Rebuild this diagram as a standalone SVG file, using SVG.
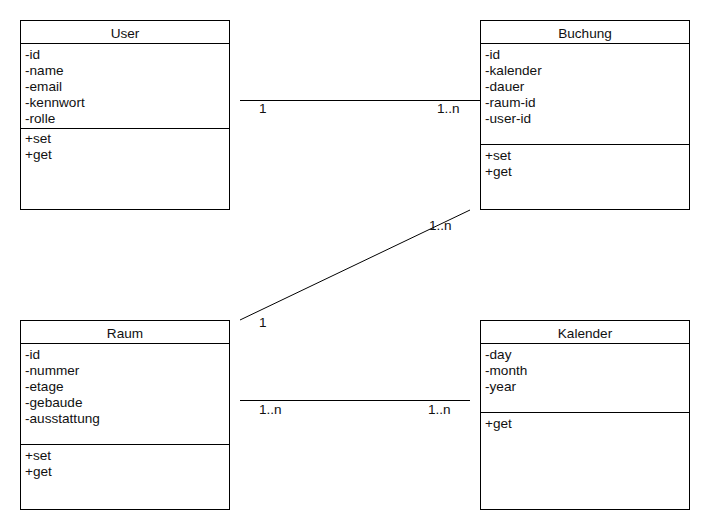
<svg xmlns="http://www.w3.org/2000/svg" width="710" height="530" viewBox="0 0 710 530">
<style>
.box{fill:#fff;stroke:#000;stroke-width:1}
.ln{stroke:#000;stroke-width:1;fill:none}
text{font-family:"Liberation Sans",Arial,sans-serif;font-size:13.6px;fill:#111}
.t{text-anchor:middle}
</style>
<rect width="710" height="530" fill="#fff"/>
<g id="User">
<rect class="box" x="20.5" y="20.5" width="209" height="189"/>
<line class="ln" x1="20" y1="43.5" x2="230" y2="43.5"/>
<line class="ln" x1="20" y1="128.5" x2="230" y2="128.5"/>
<text class="t" x="125" y="38">User</text>
<text x="25" y="59">-id</text>
<text x="25" y="75">-name</text>
<text x="25" y="91">-email</text>
<text x="25" y="107">-kennwort</text>
<text x="25" y="123">-rolle</text>
<text x="25" y="143">+set</text>
<text x="25" y="159">+get</text>
</g>
<g id="Buchung">
<rect class="box" x="480.5" y="20.5" width="209" height="189"/>
<line class="ln" x1="480" y1="43.5" x2="690" y2="43.5"/>
<line class="ln" x1="480" y1="144.5" x2="690" y2="144.5"/>
<text class="t" x="585" y="38">Buchung</text>
<text x="485" y="59">-id</text>
<text x="485" y="75">-kalender</text>
<text x="485" y="91">-dauer</text>
<text x="485" y="107">-raum-id</text>
<text x="485" y="123">-user-id</text>
<text x="485" y="160">+set</text>
<text x="485" y="176">+get</text>
</g>
<g id="Raum">
<rect class="box" x="20.5" y="320.5" width="209" height="189"/>
<line class="ln" x1="20" y1="343.5" x2="230" y2="343.5"/>
<line class="ln" x1="20" y1="444.5" x2="230" y2="444.5"/>
<text class="t" x="125" y="338">Raum</text>
<text x="25" y="359">-id</text>
<text x="25" y="375">-nummer</text>
<text x="25" y="391">-etage</text>
<text x="25" y="407">-gebaude</text>
<text x="25" y="423">-ausstattung</text>
<text x="25" y="460">+set</text>
<text x="25" y="476">+get</text>
</g>
<g id="Kalender">
<rect class="box" x="480.5" y="320.5" width="209" height="189"/>
<line class="ln" x1="480" y1="343.5" x2="690" y2="343.5"/>
<line class="ln" x1="480" y1="412.5" x2="690" y2="412.5"/>
<text class="t" x="585" y="338">Kalender</text>
<text x="485" y="359">-day</text>
<text x="485" y="375">-month</text>
<text x="485" y="391">-year</text>
<text x="485" y="428">+get</text>
</g>
<g id="connectors">
<line class="ln" x1="240" y1="100.5" x2="480" y2="100.5"/>
<line class="ln" x1="240" y1="320" x2="470" y2="210"/>
<line class="ln" x1="240" y1="400.5" x2="470" y2="400.5"/>
<text x="259" y="113">1</text>
<text x="437" y="113">1..n</text>
<text x="429" y="230">1..n</text>
<text x="259" y="327">1</text>
<text x="259" y="414">1..n</text>
<text x="428" y="414">1..n</text>
</g>
</svg>
